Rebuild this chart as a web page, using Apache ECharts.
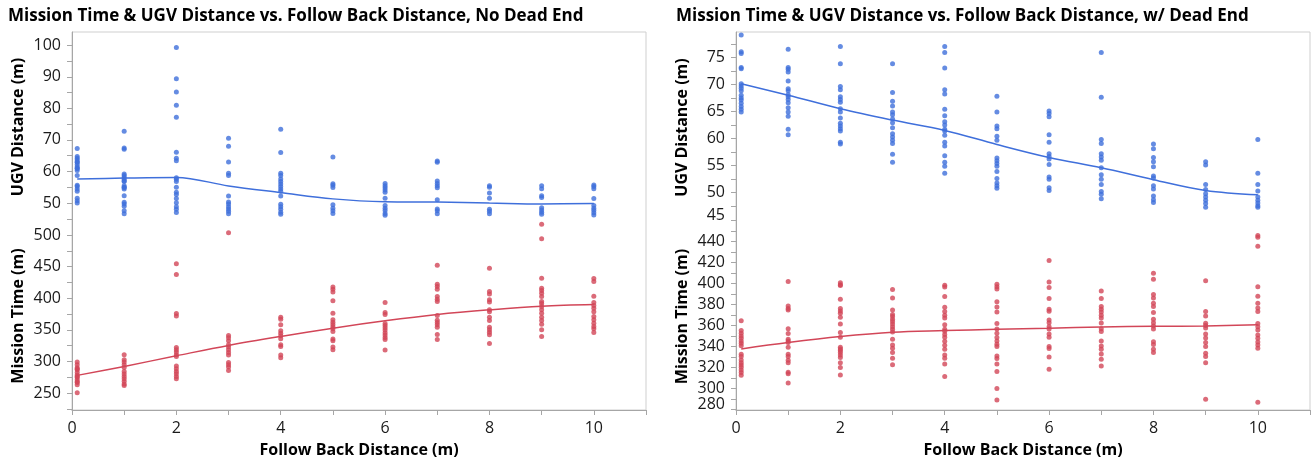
<!DOCTYPE html>
<html>
<head>
<meta charset="utf-8">
<title>Mission Time & UGV Distance vs. Follow Back Distance</title>
<script src="https://cdn.jsdelivr.net/npm/echarts@6/dist/echarts.min.js"></script>
<style>
  html, body { margin: 0; padding: 0; background: #fff; }
  #main { width: 1312px; height: 461px; }
</style>
</head>
<body>
<div id="main"></div>
<script>
// follow back distance (m), one column of runs per value
const followBack = [0.1, 1, 2, 3, 4, 5, 6, 7, 8, 9, 10];

// ---- No Dead End ----
const ugvNoDeadEnd = [
  [67.3, 64.7, 64.2, 63.6, 63.0, 62.9, 62.2, 61.5, 61.0, 60.9, 60.3, 58.7, 55.6, 55.2, 54.4, 53.7, 51.5, 50.7, 50.0],
  [72.7, 67.4, 67.0, 59.2, 58.7, 58.1, 57.5, 57.0, 56.8, 55.5, 55.0, 54.9, 54.4, 52.3, 50.2, 49.7, 49.0, 47.5, 46.6],
  [99.3, 89.4, 85.2, 81.0, 77.2, 66.1, 64.2, 63.4, 58.0, 57.5, 56.8, 55.0, 53.4, 52.7, 51.4, 50.1, 48.8, 48.0, 47.0],
  [70.5, 68.0, 63.0, 59.4, 58.7, 52.2, 50.3, 49.7, 48.8, 48.1, 47.4, 46.6],
  [73.4, 66.0, 59.4, 58.7, 57.6, 56.8, 56.0, 55.2, 54.4, 53.7, 52.2, 49.6, 48.8, 48.0, 47.1, 46.4],
  [64.6, 56.1, 55.6, 54.9, 49.4, 48.3, 47.5, 46.7],
  [56.2, 55.5, 54.8, 54.1, 53.4, 51.5, 49.2, 48.3, 47.6, 46.7, 46.1],
  [63.3, 62.9, 57.0, 56.2, 55.5, 54.8, 51.0, 48.1, 47.5, 46.6],
  [55.5, 55.0, 53.2, 51.5, 48.0, 47.4, 46.6],
  [55.5, 54.5, 52.3, 51.7, 48.5, 47.8, 47.1, 46.4],
  [55.7, 55.2, 54.5, 51.4, 49.2, 48.3, 47.7, 46.9, 46.2]
];
const ugvFitNoDeadEnd = [57.6, 57.9, 58.1, 55.4, 53.3, 51.3, 50.4, 50.3, 50.0, 49.7, 49.8];

const timeNoDeadEnd = [
  [299, 294.7, 290, 288, 286.8, 282.6, 278.4, 276, 274.7, 271, 268, 266.8, 263, 250.5],
  [310.5, 302.6, 299, 294.7, 290.5, 284.2, 280, 276.3, 272.6, 268.4, 264.2, 262],
  [454.7, 437.4, 375.8, 372, 322, 318.4, 314.7, 310.5, 307.9, 292.6, 288.4, 284.2, 280.5, 276.3, 272.6],
  [503.7, 341, 337.4, 332.6, 326.3, 322.6, 318.4, 314.2, 310, 298.4, 294.7, 291, 285.8],
  [370, 366.8, 357.9, 348.4, 344.7, 340.5, 335.8, 326.3, 323.7, 310, 305.8],
  [417.9, 414.2, 410, 395.8, 376.3, 365.8, 362.1, 358.4, 354.7, 351.6, 347.4, 335.3, 332.6, 322.6, 318.4],
  [393.2, 377.4, 374.2, 360, 356.8, 353.2, 349.5, 345.3, 341.6, 337.9, 334.7, 317.9],
  [452.1, 422, 418.4, 414.2, 402.6, 398.4, 394.7, 372.6, 365.3, 361.6, 357.9, 354.2, 342.6, 334.7],
  [447.4, 410.5, 406.8, 397.4, 394.2, 381.6, 378.4, 370, 364.7, 354.2, 350, 346.3, 342.1, 328.4],
  [517, 494.2, 431.6, 415.8, 412.1, 407.9, 402.6, 394.7, 391.6, 386.8, 381.6, 376.3, 370, 364.7, 358.9, 350, 339.5],
  [431, 426.3, 403.2, 393.2, 388.4, 384.2, 378.4, 371, 365.8, 360.5, 355.3, 351.6, 345.8]
];
const timeFitNoDeadEnd = [277.9, 292.1, 308.9, 325.3, 339.5, 352.6, 364.2, 374.2, 381.6, 387.4, 390];

// ---- w/ Dead End ----
const ugvDeadEnd = [
  [79.1, 76.0, 75.7, 73.1, 72.9, 70.1, 69.7, 69.3, 68.8, 68.0, 67.5, 67.1, 66.5, 65.9, 65.4, 64.9],
  [76.5, 73.1, 72.8, 72.3, 70.6, 69.2, 68.8, 68.1, 67.7, 67.2, 66.6, 65.7, 64.9, 64.1, 61.7, 60.7],
  [77.0, 73.8, 69.6, 69.0, 67.7, 67.2, 66.7, 65.5, 64.9, 63.8, 62.8, 62.3, 61.8, 61.4, 59.3, 59.0],
  [73.8, 68.5, 66.9, 66.0, 64.9, 64.4, 63.6, 62.9, 62.0, 60.9, 60.3, 59.7, 59.1, 57.1, 55.6],
  [77.0, 75.9, 73.0, 69.0, 68.2, 65.4, 64.2, 63.1, 62.5, 61.7, 61.4, 60.6, 59.3, 58.6, 56.8, 55.6, 54.9, 53.6],
  [67.8, 64.9, 62.3, 61.8, 60.4, 59.7, 56.4, 55.9, 55.4, 54.9, 53.9, 52.6, 51.8, 51.3, 50.8],
  [65.1, 64.6, 64.0, 60.7, 59.3, 57.2, 56.7, 56.2, 55.2, 52.9, 52.5, 50.9, 50.4],
  [75.9, 67.6, 59.8, 59.1, 57.2, 56.6, 56.0, 54.6, 53.3, 52.5, 51.5, 50.2, 49.7, 48.9],
  [59.0, 58.1, 56.5, 55.7, 54.8, 53.1, 52.7, 51.3, 50.7, 49.4, 48.7, 48.2],
  [55.7, 55.1, 51.5, 50.6, 49.8, 49.2, 48.6, 48.0, 47.3],
  [59.8, 53.6, 51.5, 50.3, 49.2, 48.6, 48.1, 47.6, 47.3]
];
const ugvFitDeadEnd = [70.1, 68.0, 65.5, 63.4, 61.5, 58.9, 56.5, 54.6, 52.4, 50.4, 49.6];

const timeDeadEnd = [
  [364.4, 354.9, 352.4, 349.8, 347.6, 345.1, 342.9, 340.6, 332.4, 330.2, 327.0, 324.4, 322.2, 320.0, 317.5, 314.9, 312.4],
  [401.6, 378.4, 375.9, 374.6, 356.8, 352.1, 346.7, 345.1, 343.5, 339.0, 332.4, 330.2, 326.7, 324.4, 315.2, 313.9, 305.1],
  [400.6, 398.7, 397.8, 384.8, 375.9, 373.7, 371.4, 367.6, 361.3, 353.0, 348.6, 339.0, 337.5, 335.9, 334.0, 331.7, 329.2, 324.4, 319.7, 312.7],
  [394.0, 386.0, 374.6, 370.2, 368.3, 365.7, 363.5, 361.3, 358.7, 356.2, 353.7, 346.7, 341.3, 338.1, 334.0, 328.6, 322.5],
  [398.1, 396.5, 387.3, 377.1, 373.0, 369.5, 367.0, 360.6, 356.2, 354.3, 351.1, 348.6, 344.8, 341.0, 337.1, 331.7, 328.6, 323.2, 311.1],
  [399.0, 396.8, 394.6, 382.5, 377.5, 372.7, 361.6, 356.5, 352.4, 348.3, 345.1, 341.9, 339.7, 330.8, 328.3, 323.2, 315.9, 299.7, 288.9],
  [421.6, 401.3, 395.9, 385.4, 375.2, 373.3, 365.1, 362.5, 358.7, 356.5, 351.7, 348.6, 339.7, 337.8, 329.8, 318.1],
  [392.7, 385.4, 377.8, 375.2, 372.7, 369.5, 367.0, 362.2, 356.8, 354.0, 345.1, 340.3, 337.1, 332.7, 327.6, 321.3],
  [409.5, 403.8, 389.2, 386.0, 381.0, 377.8, 372.1, 365.7, 362.5, 359.4, 356.5, 344.4, 341.6, 337.1, 334.0],
  [402.5, 373.0, 368.9, 361.9, 359.7, 357.5, 351.7, 347.9, 343.5, 339.7, 333.3, 330.2, 324.4, 289.5],
  [445.6, 443.8, 435.2, 396.8, 387.6, 381.0, 376.5, 373.0, 361.6, 358.7, 355.6, 350.8, 347.6, 344.1, 341.3, 338.1, 286.7]
];
const timeFitDeadEnd = [337.5, 343.5, 349.2, 353.3, 354.9, 356.2, 357.1, 358.4, 359.0, 359.4, 360.6];

// tick marks and tick labels
const xTicks = [0, 1, 2, 3, 4, 5, 6, 7, 8, 9, 10, 11];
const xLabels = [0, 2, 4, 6, 8, 10];
const ugvTicksNoDeadEnd = [45, 50, 55, 60, 65, 70, 75, 80, 85, 90, 95, 100];
const ugvLabelsNoDeadEnd = [50, 60, 70, 80, 90, 100];
const timeTicksNoDeadEnd = [225, 250, 275, 300, 325, 350, 375, 400, 425, 450, 475, 500];
const timeLabelsNoDeadEnd = [250, 300, 350, 400, 450, 500];
const ugvTicksDeadEnd = [45, 47.5, 50, 52.5, 55, 57.5, 60, 62.5, 65, 67.5, 70, 72.5, 75, 77.5];
const ugvLabelsDeadEnd = [45, 50, 55, 60, 65, 70, 75];
const timeTicksDeadEnd = [280, 290, 300, 310, 320, 330, 340, 350, 360, 370, 380, 390, 400, 410, 420, 430, 440, 450];
const timeLabelsDeadEnd = [280, 300, 320, 340, 360, 380, 400, 420, 440];

const BLUE = '#3f6fdb';
const RED = '#d24658';
const FONT = '"Open Sans", "Noto Sans", sans-serif';

function points(groups) {
  const out = [];
  groups.forEach((g, i) => g.forEach(v => out.push([followBack[i], v])));
  return out;
}
function fitLine(vals) {
  return vals.map((v, i) => [followBack[i], v]);
}

const panels = [
  {
    title: 'Mission Time & UGV Distance vs. Follow Back Distance, No Dead End',
    titleLeft: 3, left: 72, width: 574, top: 32, split: 222, bottom: 410,
    ugv: ugvNoDeadEnd, ugvFit: ugvFitNoDeadEnd, ugvMin: 43.97, ugvMax: 104.2,
    ugvTicks: ugvTicksNoDeadEnd, ugvLabels: ugvLabelsNoDeadEnd,
    time: timeNoDeadEnd, timeFit: timeFitNoDeadEnd, timeMin: 223.1, timeMax: 520.6,
    timeTicks: timeTicksNoDeadEnd, timeLabels: timeLabelsNoDeadEnd,
    lift: {}
  },
  {
    title: 'Mission Time & UGV Distance vs. Follow Back Distance, w/ Dead End',
    titleLeft: 671, left: 736, width: 574, top: 32, split: 223, bottom: 410,
    ugv: ugvDeadEnd, ugvFit: ugvFitDeadEnd, ugvMin: 44.4, ugvMax: 79.67,
    ugvTicks: ugvTicksDeadEnd, ugvLabels: ugvLabelsDeadEnd,
    time: timeDeadEnd, timeFit: timeFitDeadEnd, timeMin: 279.3, timeMax: 457.4,
    timeTicks: timeTicksDeadEnd, timeLabels: timeLabelsDeadEnd,
    // labels at the bottom edge of a sub-plot sit a little higher
    lift: { 45: 8, 280: 10 }
  }
];

const axisLine = { show: true, lineStyle: { color: '#a6a6a6', width: 1 } };
const labelStyle = { color: '#1a1a1a', fontSize: 16, fontFamily: FONT };
const nameStyle = { color: '#000', fontSize: 16, fontWeight: 'bold', fontFamily: FONT };

function yLabel(values, lift) {
  const rich = {};
  Object.keys(lift).forEach(k => {
    rich['u' + k] = { color: '#1a1a1a', fontSize: 16, fontFamily: FONT, padding: [0, 0, lift[k], 0] };
  });
  return Object.assign({
    margin: 11, customValues: values, rich: rich,
    formatter: v => (lift[v] ? '{u' + v + '|' + v + '}' : String(v))
  }, labelStyle);
}

const option = {
  backgroundColor: '#fff',
  animation: false,
  title: [], grid: [], xAxis: [], yAxis: [], series: [], graphic: []
};

panels.forEach(p => {
  option.title.push({
    text: p.title, left: p.titleLeft, top: 3,
    textStyle: { fontSize: 17, fontWeight: 'bold', color: '#000', fontFamily: FONT }
  });
  option.graphic.push({
    type: 'rect', silent: true, z: 0,
    shape: { x: p.left, y: p.top, width: p.width, height: p.bottom - p.top },
    style: { fill: null, stroke: '#cfcfcf', lineWidth: 1 }
  });

  // upper grid: UGV distance, lower grid: mission time
  const gUp = option.grid.length, gLo = gUp + 1;
  option.grid.push(
    { left: p.left, top: p.top, width: p.width, height: p.split - p.top },
    { left: p.left, top: p.split, width: p.width, height: p.bottom - p.split }
  );

  [gUp, gLo].forEach(g => {
    const lower = g === gLo;
    option.xAxis.push({
      type: 'value', gridIndex: g, min: 0, max: 11,
      show: lower,
      axisLine: axisLine,
      axisTick: { show: true, length: 5, customValues: xTicks, lineStyle: { color: '#a6a6a6' } },
      axisLabel: Object.assign({ margin: 10, customValues: xLabels }, labelStyle),
      splitLine: { show: false },
      name: lower ? 'Follow Back Distance (m)' : '',
      nameLocation: 'middle', nameGap: 32, nameTextStyle: nameStyle
    });
  });

  option.yAxis.push({
    type: 'value', gridIndex: gUp, min: p.ugvMin, max: p.ugvMax,
    axisLine: axisLine,
    axisTick: { show: true, length: 5, customValues: p.ugvTicks, lineStyle: { color: '#a6a6a6' } },
    axisLabel: yLabel(p.ugvLabels, p.lift),
    splitLine: { show: false },
    name: 'UGV Distance (m)', nameLocation: 'middle', nameRotate: 90, nameGap: 46,
    nameTextStyle: nameStyle
  }, {
    type: 'value', gridIndex: gLo, min: p.timeMin, max: p.timeMax,
    axisLine: axisLine,
    axisTick: { show: true, length: 5, customValues: p.timeTicks, lineStyle: { color: '#a6a6a6' } },
    axisLabel: yLabel(p.timeLabels, p.lift),
    splitLine: { show: false },
    name: 'Mission Time (m)', nameLocation: 'middle', nameRotate: 90, nameGap: 46,
    nameTextStyle: nameStyle
  });

  option.series.push(
    {
      type: 'scatter', xAxisIndex: gUp, yAxisIndex: gUp, data: points(p.ugv),
      symbolSize: 5, itemStyle: { color: BLUE }, silent: true
    },
    {
      type: 'line', xAxisIndex: gUp, yAxisIndex: gUp, data: fitLine(p.ugvFit),
      smooth: 0.35, showSymbol: false, lineStyle: { color: BLUE, width: 1.5 }, silent: true
    },
    {
      type: 'scatter', xAxisIndex: gLo, yAxisIndex: gLo, data: points(p.time),
      symbolSize: 5, itemStyle: { color: RED }, silent: true, clip: false
    },
    {
      type: 'line', xAxisIndex: gLo, yAxisIndex: gLo, data: fitLine(p.timeFit),
      smooth: 0.35, showSymbol: false, lineStyle: { color: RED, width: 1.5 }, silent: true
    }
  );
});

const chart = echarts.init(document.getElementById('main'), null, { renderer: 'canvas' });
chart.setOption(option);
</script>
</body>
</html>
